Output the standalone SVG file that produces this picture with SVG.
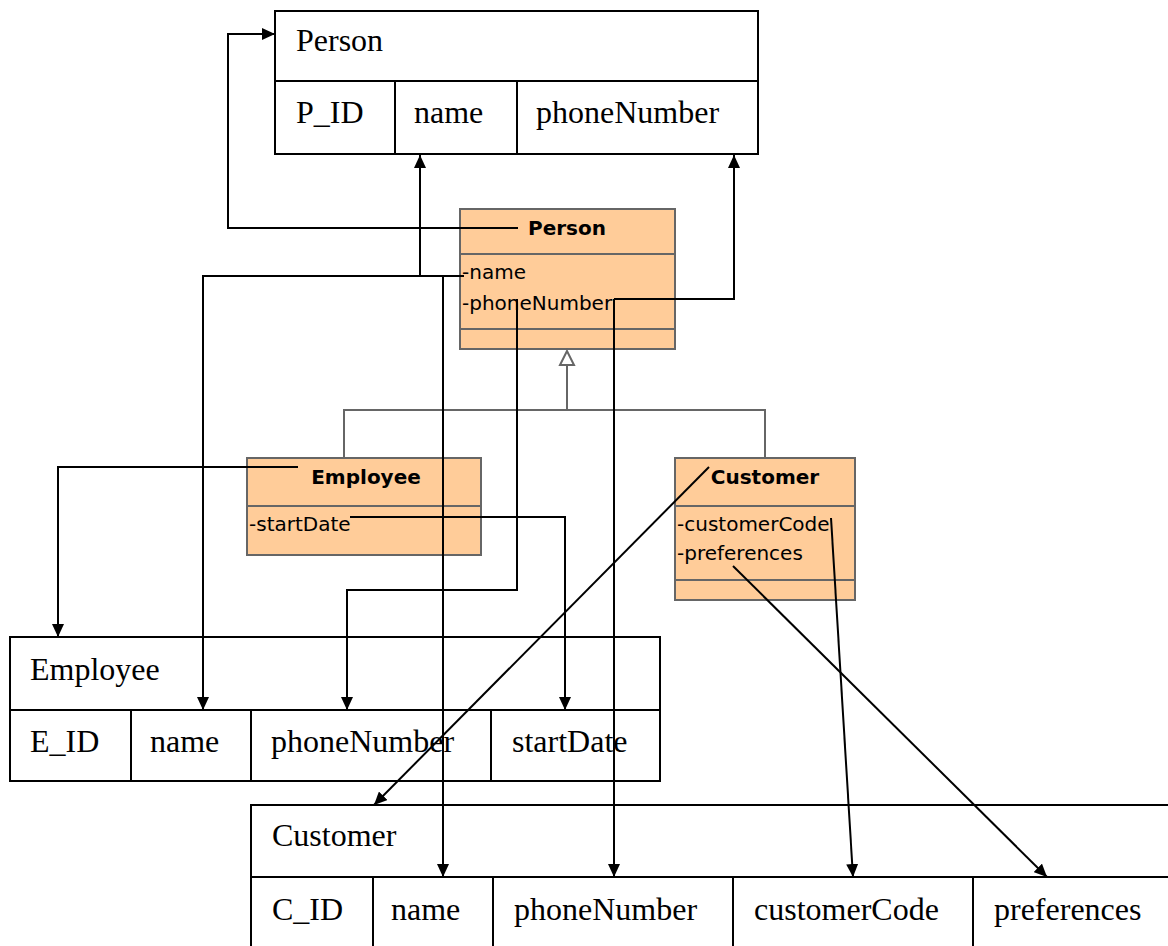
<svg xmlns="http://www.w3.org/2000/svg" width="1168" height="946" viewBox="0 0 1168 946">
  <defs>
    <marker id="arrow" markerWidth="14" markerHeight="12" refX="13" refY="6" orient="auto" markerUnits="userSpaceOnUse">
      <path d="M0,0 L13,6 L0,12 z" fill="#000"/>
    </marker>
    <style>
      .tbl { fill: #fff; stroke: #000; stroke-width: 2; }
      .tline { stroke: #000; stroke-width: 2; fill: none; }
      .ttext { font-family: "Liberation Serif", "Times New Roman", serif; font-size: 32px; fill: #000; }
      .cls { fill: #ffcc99; stroke: #666; stroke-width: 2; }
      .cline { stroke: #666; stroke-width: 2; fill: none; }
      .ctitle { font-family: "DejaVu Sans", Verdana, sans-serif; font-size: 20px; font-weight: bold; fill: #000; }
      .cattr { font-family: "DejaVu Sans", Verdana, sans-serif; font-size: 20px; fill: #000; }
      .gen { stroke: #666; stroke-width: 2; fill: none; }
      .conn { stroke: #000; stroke-width: 2; fill: none; }
    </style>
  </defs>
  <rect width="1168" height="946" fill="#fff"/>

  <!-- relational tables -->
  <g id="table-person">
    <rect class="tbl" x="275" y="11" width="483" height="143"/>
    <line class="tline" x1="275" y1="81" x2="758" y2="81"/>
    <line class="tline" x1="395" y1="81" x2="395" y2="154"/>
    <line class="tline" x1="517" y1="81" x2="517" y2="154"/>
    <text class="ttext" x="296" y="51">Person</text>
    <text class="ttext" x="296" y="123">P_ID</text>
    <text class="ttext" x="414" y="123">name</text>
    <text class="ttext" x="536" y="123">phoneNumber</text>
  </g>

  <g id="table-employee">
    <rect class="tbl" x="10" y="637" width="650" height="144"/>
    <line class="tline" x1="10" y1="710" x2="660" y2="710"/>
    <line class="tline" x1="131" y1="710" x2="131" y2="781"/>
    <line class="tline" x1="251" y1="710" x2="251" y2="781"/>
    <line class="tline" x1="491" y1="710" x2="491" y2="781"/>
    <text class="ttext" x="30" y="680">Employee</text>
    <text class="ttext" x="30" y="752">E_ID</text>
    <text class="ttext" x="150" y="752">name</text>
    <text class="ttext" x="271" y="752">phoneNumber</text>
    <text class="ttext" x="512" y="752">startDate</text>
  </g>

  <g id="table-customer">
    <rect class="tbl" x="251" y="805" width="930" height="160"/>
    <line class="tline" x1="251" y1="877" x2="1168" y2="877"/>
    <line class="tline" x1="373" y1="877" x2="373" y2="946"/>
    <line class="tline" x1="493" y1="877" x2="493" y2="946"/>
    <line class="tline" x1="733" y1="877" x2="733" y2="946"/>
    <line class="tline" x1="973" y1="877" x2="973" y2="946"/>
    <text class="ttext" x="272" y="846">Customer</text>
    <text class="ttext" x="272" y="920">C_ID</text>
    <text class="ttext" x="391" y="920">name</text>
    <text class="ttext" x="514" y="920">phoneNumber</text>
    <text class="ttext" x="754" y="920">customerCode</text>
    <text class="ttext" x="994" y="920">preferences</text>
  </g>

  <!-- class boxes -->
  <g id="class-person">
    <rect class="cls" x="460" y="209" width="215" height="140"/>
    <line class="cline" x1="460" y1="254" x2="675" y2="254"/>
    <line class="cline" x1="460" y1="329" x2="675" y2="329"/>
    <text class="ctitle" x="567" y="235" text-anchor="middle">Person</text>
    <text class="cattr" x="462" y="279">-name</text>
    <text class="cattr" x="462" y="310">-phoneNumber</text>
  </g>

  <g id="class-employee">
    <rect class="cls" x="247" y="458" width="234" height="97"/>
    <line class="cline" x1="247" y1="506" x2="481" y2="506"/>
    <text class="ctitle" x="366" y="484" text-anchor="middle">Employee</text>
    <text class="cattr" x="249" y="531">-startDate</text>
  </g>

  <g id="class-customer">
    <rect class="cls" x="675" y="458" width="180" height="142"/>
    <line class="cline" x1="675" y1="506" x2="855" y2="506"/>
    <line class="cline" x1="675" y1="580" x2="855" y2="580"/>
    <text class="ctitle" x="765" y="484" text-anchor="middle">Customer</text>
    <text class="cattr" x="677" y="531">-customerCode</text>
    <text class="cattr" x="677" y="560">-preferences</text>
  </g>

  <!-- generalization -->
  <g id="generalization">
    <path class="gen" d="M344,458 V410 H765 V458"/>
    <line class="gen" x1="567" y1="410" x2="567" y2="365"/>
    <path d="M567,351 L560,365 L574,365 z" fill="#fff" stroke="#666" stroke-width="2"/>
  </g>

  <!-- mappings -->
  <g id="connectors">
    <path class="conn" d="M518,228 H228 V34 H275" marker-end="url(#arrow)"/>
    <path class="conn" d="M464,276 H420 V155" marker-end="url(#arrow)"/>
    <path class="conn" d="M420,276 H203 V710" marker-end="url(#arrow)"/>
    <path class="conn" d="M443,276 V877" marker-end="url(#arrow)"/>
    <path class="conn" d="M614,299 H734 V155" marker-end="url(#arrow)"/>
    <path class="conn" d="M614,299 V877" marker-end="url(#arrow)"/>
    <path class="conn" d="M517,299 V590 H347 V710" marker-end="url(#arrow)"/>
    <path class="conn" d="M350,517 H565 V710" marker-end="url(#arrow)"/>
    <path class="conn" d="M298,467 H58 V637" marker-end="url(#arrow)"/>
    <path class="conn" d="M709,467 L374,805" marker-end="url(#arrow)"/>
    <path class="conn" d="M831,518 L853,877" marker-end="url(#arrow)"/>
    <path class="conn" d="M733,566 L1047,877" marker-end="url(#arrow)"/>
  </g>
</svg>
